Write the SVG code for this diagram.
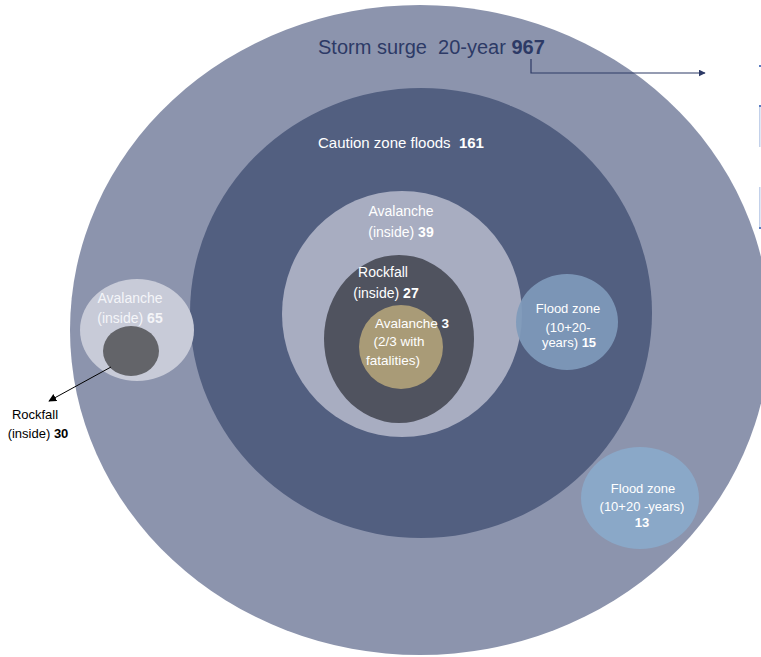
<svg xmlns="http://www.w3.org/2000/svg" width="761" height="657" viewBox="0 0 761 657">
<defs>
<marker id="ah" viewBox="0 0 10 10" refX="9" refY="5" markerWidth="7" markerHeight="7" orient="auto" markerUnits="userSpaceOnUse">
<path d="M0,0 L10,5 L0,10 z" fill="#2d3a66"/>
</marker>
<marker id="ahk" viewBox="0 0 10 10" refX="9" refY="5" markerWidth="8" markerHeight="8" orient="auto" markerUnits="userSpaceOnUse">
<path d="M0,0 L10,5 L0,10 z" fill="#000"/>
</marker>
<style>
text{font-family:"Liberation Sans",Arial,sans-serif;}
.w{fill:#ffffff;font-size:14px;text-anchor:middle;}
.b{font-weight:bold;}
.k{fill:#000000;font-size:13px;text-anchor:middle;}
</style>
</defs>
<rect width="761" height="657" fill="#ffffff"/>
<g id="storm-surge">
<ellipse cx="420" cy="330" rx="350" ry="325" fill="#8c94ad"/>
<text x="318" y="54" style="font-size:20px;fill:#2d3a66">Storm surge&#160; 20-year <tspan class="b">967</tspan></text>
</g>
<g id="caution-zone">
<ellipse cx="421" cy="313" rx="231" ry="225" fill="#525f80"/>
<text x="318" y="148" style="font-size:15px;fill:#ffffff">Caution zone floods&#160; <tspan class="b">161</tspan></text>
</g>
<g id="avalanche-39">
<ellipse cx="402" cy="314" rx="120" ry="123" fill="#a8adc1"/>
<text class="w" x="401" y="216">Avalanche</text>
<text class="w" x="401" y="237">(inside) <tspan class="b">39</tspan></text>
</g>
<g id="rockfall-27">
<ellipse cx="399" cy="339" rx="75" ry="84" fill="#50535f"/>
<text class="w" x="383" y="277">Rockfall</text>
<text class="w" x="386" y="298">(inside) <tspan class="b">27</tspan></text>
</g>
<g id="avalanche-3">
<ellipse cx="401" cy="347" rx="42" ry="42" fill="#a99b77"/>
<text class="w" x="412" y="328" style="font-size:13.5px">Avalanche <tspan class="b">3</tspan></text>
<text class="w" x="399" y="346" style="font-size:13.5px">(2/3 with</text>
<text class="w" x="393" y="365" style="font-size:13.5px">fatalities)</text>
</g>
<g id="flood-zone-15">
<ellipse cx="567" cy="322" rx="51" ry="48" fill="#7f9abb" fill-opacity="0.92"/>
<text class="w" x="568" y="313" style="font-size:13px">Flood zone</text>
<text class="w" x="568" y="332" style="font-size:13px">(10+20-</text>
<text class="w" x="569" y="347" style="font-size:13px">years) <tspan class="b">15</tspan></text>
</g>
<g id="flood-zone-13">
<ellipse cx="640" cy="498" rx="59" ry="51" fill="#8aa8c8"/>
<text class="w" x="643" y="493" style="font-size:13px">Flood zone</text>
<text class="w" x="642" y="511" style="font-size:13px">(10+20 -years)</text>
<text class="w b" x="642" y="527" style="font-size:13px">13</text>
</g>
<g id="avalanche-65">
<ellipse cx="137" cy="330" rx="57" ry="51" fill="#c8cbd8"/>
<text class="w" x="130" y="303" style="fill:#f4f5f8">Avalanche</text>
<text class="w" x="130" y="323" style="fill:#f4f5f8">(inside) <tspan class="b">65</tspan></text>
</g>
<g id="rockfall-30">
<ellipse cx="131" cy="351" rx="28" ry="25" fill="#636469"/>
<text class="k" x="35" y="419">Rockfall</text>
<text class="k" x="38" y="438">(inside) <tspan class="b">30</tspan></text>
</g>
<g id="legend-edge">
<rect x="759" y="65" width="2" height="2" fill="#5b7cc0"/>
<rect x="759" y="105" width="1.5" height="42" fill="#c3d1ea"/>
<rect x="759" y="105" width="2" height="2" fill="#5b7cc0"/>
<rect x="759" y="187" width="1.5" height="41" fill="#c3d1ea"/>
<rect x="759" y="227" width="2" height="2" fill="#5b7cc0"/>
</g>
<g id="connectors">
<path d="M531,59 V73 H705" fill="none" stroke="#2d3a66" stroke-width="1.2" marker-end="url(#ah)"/>
<path d="M111,367 L49,401" fill="none" stroke="#000" stroke-width="1" marker-end="url(#ahk)"/>
</g>
</svg>
